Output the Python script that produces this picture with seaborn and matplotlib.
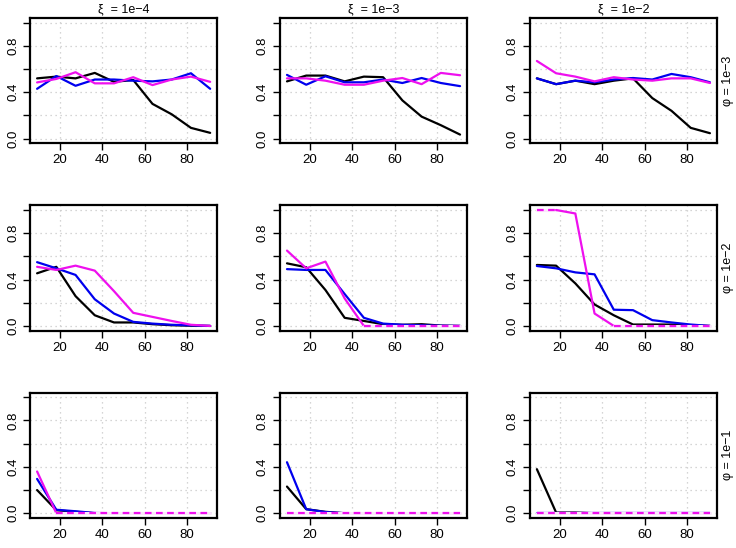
import numpy as np
import matplotlib
matplotlib.use("Agg")
import matplotlib.pyplot as plt
import seaborn as sns

# x positions (10 evaluation points)
x_vals = [9.09, 18.18, 27.27, 36.36, 45.45, 54.55, 63.64, 72.73, 81.82, 90.91]

col_titles = ["\u03be  = 1e\u22124", "\u03be  = 1e\u22123", "\u03be  = 1e\u22122"]
row_titles = ["\u03c6 = 1e\u22123", "\u03c6 = 1e\u22122", "\u03c6 = 1e\u22121"]

# row 1 (phi = 1e-3)
black_r1c1 = [0.52, 0.535, 0.52, 0.567, 0.49, 0.506, 0.30, 0.21, 0.093, 0.05]
blue_r1c1 = [0.43, 0.54, 0.456, 0.51, 0.51, 0.50, 0.494, 0.51, 0.564, 0.43]
pink_r1c1 = [0.485, 0.515, 0.573, 0.477, 0.477, 0.53, 0.462, 0.51, 0.535, 0.49]

black_r1c2 = [0.494, 0.544, 0.544, 0.494, 0.535, 0.53, 0.33, 0.19, 0.116, 0.035]
blue_r1c2 = [0.55, 0.465, 0.538, 0.486, 0.486, 0.51, 0.48, 0.523, 0.48, 0.453]
pink_r1c2 = [0.52, 0.52, 0.50, 0.465, 0.465, 0.50, 0.523, 0.47, 0.567, 0.547]

black_r1c3 = [0.52, 0.47, 0.50, 0.47, 0.50, 0.52, 0.35, 0.24, 0.093, 0.047]
blue_r1c3 = [0.52, 0.47, 0.50, 0.486, 0.51, 0.523, 0.51, 0.558, 0.53, 0.486]
pink_r1c3 = [0.67, 0.564, 0.535, 0.494, 0.53, 0.51, 0.50, 0.52, 0.52, 0.48]

# row 2 (phi = 1e-2)
black_r2c1 = [0.454, 0.51, 0.257, 0.092, 0.03, 0.03, 0.015, 0.006, 0.002, 0.0]
blue_r2c1 = [0.55, 0.497, 0.44, 0.23, 0.107, 0.035, 0.02, 0.01, 0.005, 0.0]
pink_r2c1 = [0.51, 0.483, 0.52, 0.477, 0.30, 0.113, 0.078, 0.043, 0.01, 0.0]

black_r2c2 = [0.54, 0.506, 0.31, 0.07, 0.043, 0.015, 0.01, 0.015, 0.003, 0.0]
blue_r2c2 = [0.49, 0.483, 0.483, 0.275, 0.07, 0.02, 0.01, 0.005, 0.002, 0.0]
pink_r2c2 = [0.65, 0.497, 0.555, 0.237, 0.0, 0.0, 0.0, 0.0, 0.0, 0.0]

black_r2c3 = [0.526, 0.52, 0.367, 0.185, 0.092, 0.012, 0.012, 0.012, 0.006, 0.0]
blue_r2c3 = [0.517, 0.497, 0.462, 0.445, 0.14, 0.136, 0.05, 0.03, 0.012, 0.0]
pink_r2c3 = [1.0, 1.0, 0.97, 0.107, 0.0, 0.0, 0.0, 0.0, 0.0, 0.0]

# row 3 (phi = 1e-1)
black_r3c1 = [0.20, 0.026, 0.012, 0.0, 0.0, 0.0, 0.0, 0.0, 0.0, 0.0]
blue_r3c1 = [0.296, 0.03, 0.017, 0.002, 0.0, 0.0, 0.0, 0.0, 0.0, 0.0]
pink_r3c1 = [0.36, 0.0, 0.0, 0.0, 0.0, 0.0, 0.0, 0.0, 0.0, 0.0]

black_r3c2 = [0.23, 0.035, 0.012, 0.0, 0.0, 0.0, 0.0, 0.0, 0.0, 0.0]
blue_r3c2 = [0.44, 0.035, 0.01, 0.0, 0.0, 0.0, 0.0, 0.0, 0.0, 0.0]
pink_r3c2 = [0.0, 0.0, 0.0, 0.0, 0.0, 0.0, 0.0, 0.0, 0.0, 0.0]

black_r3c3 = [0.38, 0.006, 0.006, 0.0, 0.0, 0.0, 0.0, 0.0, 0.0, 0.0]
blue_r3c3 = [0.0, 0.0, 0.0, 0.0, 0.0, 0.0, 0.0, 0.0, 0.0, 0.0]
pink_r3c3 = [0.0, 0.0, 0.0, 0.0, 0.0, 0.0, 0.0, 0.0, 0.0, 0.0]

panels = [
    [(black_r1c1, blue_r1c1, pink_r1c1), (black_r1c2, blue_r1c2, pink_r1c2), (black_r1c3, blue_r1c3, pink_r1c3)],
    [(black_r2c1, blue_r2c1, pink_r2c1), (black_r2c2, blue_r2c2, pink_r2c2), (black_r2c3, blue_r2c3, pink_r2c3)],
    [(black_r3c1, blue_r3c1, pink_r3c1), (black_r3c2, blue_r3c2, pink_r3c2), (black_r3c3, blue_r3c3, pink_r3c3)],
]

sns.set_style("white")
plt.rcParams["font.family"] = ["Liberation Sans", "DejaVu Sans"]
plt.rcParams["text.color"] = "black"
plt.rcParams["xtick.color"] = "black"
plt.rcParams["ytick.color"] = "black"

BLACK, BLUE, PINK = "#000000", "#0000EE", "#EE10EE"
LW = 1.6


def pink_runs(vals):
    # split the magenta series into solid and dashed pieces
    # (dashed where the curve sits flat on the 0 / 1 bound)
    v = np.asarray(vals)
    flat = [(v[i] == v[i + 1]) and v[i] in (0.0, 1.0) for i in range(len(v) - 1)]
    runs = []
    start = 0
    for i in range(1, len(flat)):
        if flat[i] != flat[start]:
            runs.append((start, i, flat[start]))
            start = i
    runs.append((start, len(flat), flat[start]))
    return runs


fig, axes = plt.subplots(3, 3, figsize=(7.36, 5.48), dpi=100)
fig.subplots_adjust(left=0.041, right=0.974, top=0.967, bottom=0.055,
                    wspace=0.337, hspace=0.496)

for r in range(3):
    for c in range(3):
        ax = axes[r, c]
        blk, blu, pnk = panels[r][c]

        for xv in [20, 40, 60, 80]:
            ax.axvline(xv, color="#c8c8c8", lw=0.9, ls=(0, (1, 3)), zorder=0)
        for yv in [0, 0.2, 0.4, 0.6, 0.8, 1.0]:
            ax.axhline(yv, color="#c8c8c8", lw=0.9, ls=(0, (1, 3)), zorder=0)

        sns.lineplot(x=x_vals, y=blk, color=BLACK, lw=LW, ax=ax,
                     estimator=None, sort=False)
        sns.lineplot(x=x_vals, y=blu, color=BLUE, lw=LW, ax=ax,
                     estimator=None, sort=False)
        for a, b, dashed in pink_runs(pnk):
            xs, ys = x_vals[a:b + 1], pnk[a:b + 1]
            if dashed:
                # pale backing so the dashes read like the original
                sns.lineplot(x=xs, y=ys, color="#fbe6fb", lw=LW + 0.6, ax=ax,
                             estimator=None, sort=False)
            sns.lineplot(x=xs, y=ys, color=PINK, lw=LW,
                         ls=(0, (3, 2)) if dashed else "-", ax=ax,
                         estimator=None, sort=False)

        ax.set_xlim(5.82, 94.18)
        ax.set_ylim(-0.04, 1.04)
        ax.set_xticks([20, 40, 60, 80])
        ax.set_yticks([0, 0.2, 0.4, 0.6, 0.8, 1.0])
        ax.set_yticklabels(["0.0", "", "0.4", "", "0.8", ""],
                           rotation=90, va="center")
        ax.tick_params(axis="both", direction="out", length=5, width=1,
                       labelsize=9.5, colors="black", pad=3, left=True, bottom=True)
        for sp in ax.spines.values():
            sp.set_visible(True)
            sp.set_color("black")
            sp.set_linewidth(1.6)
        ax.set_xlabel("")
        ax.set_ylabel("")

        if r == 0:
            ax.set_title(col_titles[c], fontsize=9, pad=4, color="black")
        if c == 2:
            ax.text(1.06, 0.5, row_titles[r], transform=ax.transAxes,
                    rotation=90, ha="center", va="center", fontsize=9)

fig.savefig("out.png", dpi=100)
